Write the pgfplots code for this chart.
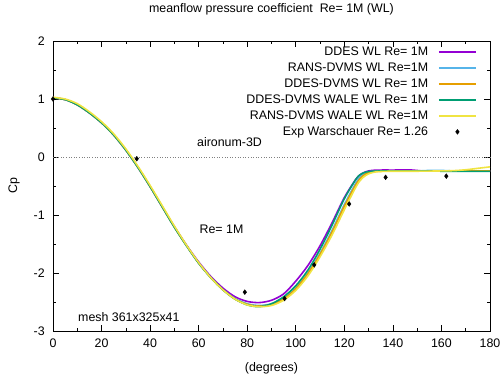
\documentclass[border=0pt]{standalone}
\usepackage{pgfplots}
\pgfplotsset{compat=1.18}
\usepackage{fontspec}
\setmainfont{Liberation Sans}
\definecolor{gpPurple}{HTML}{9400D3}
\definecolor{gpBlue}{HTML}{56B4E9}
\definecolor{gpOrange}{HTML}{E69F00}
\definecolor{gpGreen}{HTML}{009E73}
\definecolor{gpYellow}{HTML}{F0E442}
\pgfplotsset{
  lineleg/.style={legend image code/.code={\draw[##1] (0pt,0pt) -- (37pt,0pt);}},
  markleg/.style={legend image code/.code={\draw[##1] plot coordinates {(18.5pt,0pt)};}},
}
\newcommand{\fs}{\fontsize{12.4pt}{14pt}\selectfont}
\begin{document}
\fs
\begin{tikzpicture}
\begin{axis}[
  scale only axis, width=437pt, height=290pt,
  xmin=0, xmax=180, ymin=-3, ymax=2,
  xtick={0,20,...,180}, ytick={-3,-2,...,2},
  minor x tick num=1, minor y tick num=1,
  tick align=inside, major tick length=6pt, minor tick length=3pt,
  axis line style={line width=0.8pt},
  every tick/.style={black, line width=0.6pt},
  /pgf/number format/assume math mode=true,
  tick label style={font=\fs},
  xticklabel style={yshift=-4pt},
  yticklabel style={xshift=-4pt},
  title={meanflow pressure coefficient~~Re= 1M (WL)},
  title style={at={(axis description cs:0.5,1.0897)}, anchor=center, font=\fs},
  xlabel={(degrees)},
  every axis x label/.style={at={(axis description cs:0.5,-0.128)}, anchor=center},
  ylabel={Cp},
  every axis y label/.style={at={(axis description cs:-0.089,0.5)}, rotate=90, anchor=center},
  clip=false,
  legend plot pos=right,
  legend cell align=right,
  legend style={draw=none, fill=none, at={(axis description cs:0.977,0.99)}, anchor=north east,
    font=\fs, row sep=4.5pt, column sep=10pt,
    nodes={inner sep=0pt, text height=9pt, text depth=2.5pt}},
]
\addplot[gray, dotted, line width=0.6pt, forget plot] coordinates {(0,0) (180,0)};

\addplot[gpPurple, line width=1.6pt, smooth, line join=round, lineleg] coordinates {
(0,1.02)(5,0.99)(10,0.90)(15,0.76)(20,0.59)(25,0.38)(30,0.12)(35,-0.18)(40,-0.51)(45,-0.86)
(50,-1.20)(55,-1.52)(60,-1.81)(65,-2.06)(70,-2.26)(75,-2.41)(80,-2.49)(85,-2.51)(90,-2.47)
(95,-2.36)(100,-2.14)(105,-1.87)(110,-1.53)(115,-1.13)(120,-0.70)(125,-0.37)(127.5,-0.28)
(130,-0.24)(132.5,-0.228)(135,-0.225)(140,-0.225)(148,-0.225)(152,-0.24)(160,-0.24)(170,-0.24)(180,-0.24)};
\addlegendentry{DDES WL Re= 1M}

\addplot[gpBlue, line width=1.6pt, smooth, line join=round, lineleg] coordinates {
(0,1.02)(5,0.99)(10,0.90)(15,0.76)(20,0.59)(25,0.38)(30,0.12)(35,-0.18)(40,-0.51)(45,-0.86)
(50,-1.21)(55,-1.53)(60,-1.83)(65,-2.08)(70,-2.29)(75,-2.44)(80,-2.53)(85,-2.56)(90,-2.53)
(95,-2.44)(100,-2.26)(105,-2.00)(110,-1.66)(115,-1.26)(120,-0.82)(125,-0.43)(127.5,-0.31)
(130,-0.26)(132.5,-0.245)(135,-0.24)(140,-0.24)(150,-0.24)(155,-0.232)(160,-0.232)(165,-0.24)(170,-0.24)(180,-0.24)};
\addlegendentry{RANS-DVMS WL Re=1M}

\addplot[gpOrange, line width=1.6pt, smooth, line join=round, lineleg] coordinates {
(0,1.02)(5,0.99)(10,0.90)(15,0.76)(20,0.59)(25,0.38)(30,0.12)(35,-0.18)(40,-0.51)(45,-0.86)
(50,-1.21)(55,-1.53)(60,-1.83)(65,-2.08)(70,-2.29)(75,-2.45)(80,-2.54)(85,-2.57)(90,-2.54)
(95,-2.45)(100,-2.27)(105,-2.01)(110,-1.68)(115,-1.29)(120,-0.85)(125,-0.46)(127.5,-0.33)
(130,-0.27)(132.5,-0.25)(135,-0.245)(140,-0.24)(150,-0.24)(160,-0.24)(170,-0.24)(180,-0.24)};
\addlegendentry{DDES-DVMS WL Re= 1M}

\addplot[gpGreen, line width=1.6pt, smooth, line join=round, lineleg] coordinates {
(0,1.02)(5,0.99)(10,0.90)(15,0.76)(20,0.59)(25,0.38)(30,0.12)(35,-0.18)(40,-0.51)(45,-0.86)
(50,-1.21)(55,-1.53)(60,-1.83)(65,-2.08)(70,-2.29)(75,-2.45)(80,-2.55)(85,-2.58)(90,-2.53)
(95,-2.41)(100,-2.22)(105,-1.95)(110,-1.59)(115,-1.17)(120,-0.72)(125,-0.37)(127.5,-0.28)
(130,-0.25)(132.5,-0.245)(135,-0.24)(140,-0.24)(150,-0.24)(160,-0.245)(170,-0.248)(180,-0.248)};
\addlegendentry{DDES-DVMS WALE WL Re= 1M}

\addplot[gpYellow, line width=1.6pt, smooth, line join=round, lineleg] coordinates {
(0,1.03)(5,1.00)(10,0.92)(15,0.78)(20,0.61)(25,0.40)(30,0.14)(35,-0.16)(40,-0.49)(45,-0.84)
(50,-1.19)(55,-1.52)(60,-1.82)(65,-2.08)(70,-2.29)(75,-2.45)(80,-2.55)(85,-2.58)(90,-2.56)
(95,-2.47)(100,-2.30)(105,-2.05)(110,-1.72)(115,-1.34)(120,-0.91)(125,-0.50)(127.5,-0.36)
(130,-0.29)(132.5,-0.26)(135,-0.25)(140,-0.245)(150,-0.245)(160,-0.24)(165,-0.235)(170,-0.22)(175,-0.195)(180,-0.17)};
\addlegendentry{RANS-DVMS WALE WL Re=1M}

\addplot[black, only marks, mark=diamond*, mark size=2.4pt, markleg] coordinates {
(0,1.00)(34.5,-0.03)(79,-2.33)(95.4,-2.44)(107.6,-1.86)(122,-0.81)(137,-0.35)(162,-0.33)};
\addlegendentry{Exp Warschauer Re= 1.26}

\node[anchor=west, inner sep=0pt] at (axis cs:59.3,0.26) {aironum-3D};
\node[anchor=west, inner sep=0pt] at (axis cs:60.3,-1.24) {Re= 1M};
\node[anchor=west, inner sep=0pt] at (axis cs:10.3,-2.76) {mesh 361x325x41};
\end{axis}
\pgfresetboundingbox
\path[use as bounding box] (-53pt,-47pt) rectangle (447pt,331pt);
\end{tikzpicture}
\end{document}
